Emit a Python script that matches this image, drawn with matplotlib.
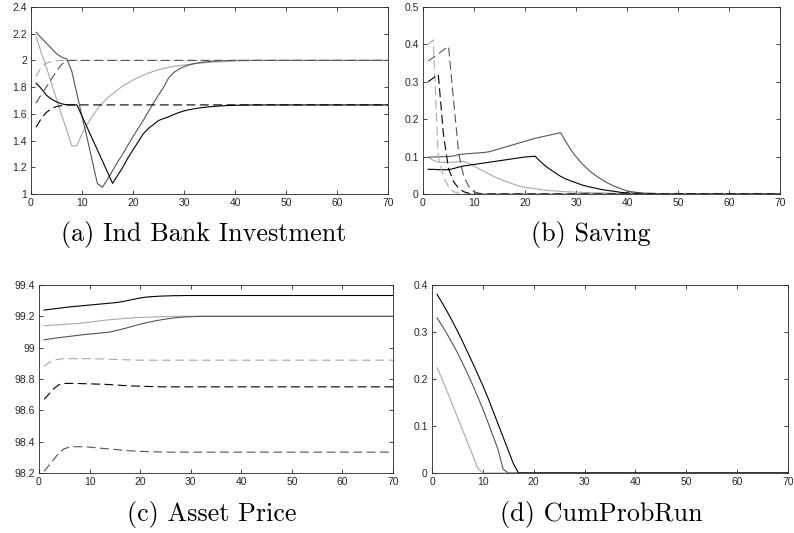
import numpy as np
import matplotlib.pyplot as plt

# periods 1..70
t = np.arange(1, 71)

def pad(vals, tail):
    vals = list(vals)
    return np.array(vals + [tail] * (70 - len(vals)))

# (a) individual bank investment
inv_black = pad([1.83, 1.79, 1.74, 1.71, 1.69, 1.675, 1.668, 1.667, 1.667,
                 1.583, 1.499, 1.415, 1.332, 1.248, 1.164, 1.08,
                 1.14, 1.20, 1.27, 1.33, 1.39, 1.45, 1.49, 1.52, 1.55, 1.565,
                 1.578, 1.595, 1.61, 1.622, 1.631, 1.638, 1.644, 1.649, 1.653,
                 1.656, 1.659, 1.661, 1.663, 1.664, 1.665, 1.666, 1.666, 1.667], 1.667)
inv_dark = pad([2.21, 2.17, 2.13, 2.09, 2.05, 2.025, 2.01, 1.92, 1.75, 1.58,
                1.42, 1.25, 1.08, 1.05, 1.11, 1.175, 1.24, 1.30, 1.365, 1.43,
                1.49, 1.55, 1.615, 1.68, 1.74, 1.80, 1.87, 1.91, 1.935, 1.953,
                1.966, 1.976, 1.983, 1.988, 1.992, 1.995, 1.997, 1.998, 1.999], 2.0)
inv_light = pad([2.18, 2.06, 1.95, 1.83, 1.71, 1.59, 1.48, 1.36, 1.36, 1.45,
                 1.52, 1.58, 1.635, 1.68, 1.72, 1.75, 1.78, 1.81, 1.83, 1.853,
                 1.872, 1.89, 1.905, 1.918, 1.93, 1.94, 1.948, 1.955, 1.961,
                 1.966, 1.971, 1.975, 1.979, 1.982, 1.985, 1.988, 1.99, 1.992,
                 1.994, 1.995, 1.997, 1.998, 1.999], 2.0)
inv_black_d = pad([1.50, 1.565, 1.61, 1.64, 1.655, 1.662, 1.666], 1.667)
inv_dark_d = pad([1.68, 1.745, 1.80, 1.86, 1.92, 1.97, 2.0], 2.0)
inv_light_d = pad([1.88, 1.95, 1.98, 1.99, 1.997], 2.0)

# (b) saving
sav_black = pad([0.066, 0.066, 0.065, 0.065, 0.065, 0.068, 0.072, 0.075, 0.077,
                 0.079, 0.081, 0.083, 0.085, 0.087, 0.089, 0.091, 0.093, 0.095,
                 0.097, 0.099, 0.1, 0.101, 0.087, 0.075, 0.065, 0.056, 0.047,
                 0.04, 0.035, 0.03, 0.025, 0.021, 0.018, 0.015, 0.012, 0.01,
                 0.008, 0.006, 0.004, 0.003, 0.002, 0.002, 0.001, 0.001, 0.001], 0.0)
sav_dark = pad([0.098, 0.099, 0.099, 0.1, 0.1, 0.102, 0.105, 0.107, 0.108,
                0.109, 0.11, 0.111, 0.113, 0.117, 0.121, 0.125, 0.129, 0.133,
                0.137, 0.141, 0.145, 0.149, 0.152, 0.155, 0.158, 0.161, 0.164,
                0.14, 0.118, 0.1, 0.084, 0.07, 0.058, 0.048, 0.039, 0.031, 0.024,
                0.018, 0.013, 0.008, 0.006, 0.004, 0.003, 0.002, 0.002, 0.001,
                0.001, 0.001], 0.0)
sav_light = pad([0.098, 0.09, 0.085, 0.085, 0.085, 0.085, 0.086, 0.087, 0.082,
                 0.075, 0.067, 0.06, 0.053, 0.046, 0.04, 0.035, 0.03, 0.025,
                 0.021, 0.018, 0.016, 0.014, 0.012, 0.01, 0.009, 0.008, 0.007,
                 0.006, 0.0055, 0.005, 0.0045, 0.004, 0.0035, 0.003, 0.003,
                 0.0025, 0.002, 0.0015, 0.001, 0.001], 0.0)
sav_black_d = pad([0.30, 0.31, 0.32, 0.16, 0.068, 0.033, 0.015, 0.006, 0.002], 0.0)
sav_dark_d = pad([0.355, 0.365, 0.375, 0.385, 0.395, 0.25, 0.108, 0.046,
                  0.02, 0.006, 0.002], 0.0)
sav_light_d = pad([0.40, 0.412, 0.10, 0.046, 0.02, 0.006, 0.002], 0.0)

# (c) asset price
ap_black = pad([99.24, 99.244, 99.248, 99.252, 99.256, 99.26, 99.263, 99.266,
                99.269, 99.272, 99.275, 99.278, 99.281, 99.284, 99.287, 99.291,
                99.297, 99.304, 99.311, 99.317, 99.322, 99.325, 99.327, 99.329,
                99.33, 99.331, 99.332, 99.332, 99.333], 99.333)
ap_dark = pad([99.05, 99.055, 99.06, 99.064, 99.068, 99.072, 99.076, 99.08,
               99.084, 99.087, 99.09, 99.093, 99.096, 99.1, 99.107, 99.115,
               99.123, 99.132, 99.141, 99.15, 99.157, 99.164, 99.171, 99.177,
               99.182, 99.187, 99.191, 99.194, 99.196, 99.198, 99.199, 99.2], 99.2)
ap_light = pad([99.14, 99.142, 99.144, 99.146, 99.148, 99.151, 99.153, 99.155,
                99.159, 99.163, 99.167, 99.171, 99.175, 99.178, 99.181, 99.184,
                99.187, 99.189, 99.191, 99.193, 99.194, 99.195, 99.196, 99.197,
                99.198, 99.199, 99.2], 99.2)
ap_light_d = pad([98.88, 98.905, 98.92, 98.927, 98.93, 98.93, 98.93, 98.93,
                  98.93, 98.93, 98.929, 98.928, 98.927, 98.926, 98.925, 98.924,
                  98.923, 98.922, 98.921, 98.92], 98.92)
ap_black_d = pad([98.67, 98.705, 98.74, 98.765, 98.772, 98.772, 98.772, 98.771,
                  98.77, 98.769, 98.768, 98.767, 98.766, 98.764, 98.762, 98.76,
                  98.758, 98.756, 98.755, 98.754, 98.753, 98.752, 98.751, 98.75], 98.75)
ap_dark_d = pad([98.21, 98.25, 98.29, 98.33, 98.355, 98.365, 98.368, 98.368,
                 98.367, 98.365, 98.362, 98.359, 98.356, 98.353, 98.35, 98.347,
                 98.344, 98.342, 98.34, 98.338, 98.337, 98.336, 98.335, 98.334,
                 98.333], 98.333)

# (d) cumulative probability of a run
run_black = pad([0.38, 0.362, 0.343, 0.323, 0.302, 0.28, 0.257, 0.234, 0.21,
                 0.186, 0.16, 0.132, 0.104, 0.076, 0.048, 0.02], 0.0)
run_dark = pad([0.33, 0.313, 0.295, 0.276, 0.256, 0.234, 0.211, 0.187, 0.162,
                0.136, 0.108, 0.079, 0.049, 0.008], 0.0)
run_light = pad([0.224, 0.199, 0.173, 0.146, 0.119, 0.092, 0.065, 0.038, 0.01], 0.0)

BLACK = '#000000'
DARK = '#555555'
LIGHT = '#a8a8a8'
AXC = '#262626'

W, H = 794, 533
fig = plt.figure(figsize=(W / 100, H / 100), dpi=100)

def make_axes(l, r, top, bot):
    ax = fig.add_axes([l / W, 1 - bot / H, (r - l) / W, (bot - top) / H])
    for s in ax.spines.values():
        s.set_color(AXC)
        s.set_linewidth(0.6)
    ax.tick_params(direction='in', top=True, right=True, length=3, width=0.6,
                   color=AXC, labelcolor=AXC, labelsize=7.5, pad=3)
    ax.set_xlim(0, 70)
    ax.set_xticks(range(0, 71, 10))
    return ax

def draw(ax, solid, dashed):
    for y, c in solid:
        ax.plot(t, y, color=c, lw=0.8)
    for y, c in dashed:
        ax.plot(t, y, color=c, lw=0.8, dashes=(8, 4))

ax_a = make_axes(31, 388, 7, 194)
draw(ax_a, [(inv_light, LIGHT), (inv_dark, DARK), (inv_black, BLACK)],
     [(inv_light_d, LIGHT), (inv_dark_d, DARK), (inv_black_d, BLACK)])
ax_a.set_ylim(1, 2.4)
ax_a.set_yticks([1, 1.2, 1.4, 1.6, 1.8, 2, 2.2, 2.4])
ax_a.set_yticklabels(['1', '1.2', '1.4', '1.6', '1.8', '2', '2.2', '2.4'])

ax_b = make_axes(423, 780, 7, 194)
draw(ax_b, [(sav_light, LIGHT), (sav_dark, DARK), (sav_black, BLACK)],
     [(sav_light_d, LIGHT), (sav_dark_d, DARK), (sav_black_d, BLACK)])
ax_b.set_ylim(0, 0.5)
ax_b.set_yticks([0, 0.1, 0.2, 0.3, 0.4, 0.5])
ax_b.set_yticklabels(['0', '0.1', '0.2', '0.3', '0.4', '0.5'])

ax_c = make_axes(39, 393, 285, 473)
draw(ax_c, [(ap_light, LIGHT), (ap_dark, DARK), (ap_black, BLACK)],
     [(ap_light_d, LIGHT), (ap_dark_d, DARK), (ap_black_d, BLACK)])
ax_c.set_ylim(98.2, 99.4)
ax_c.set_yticks([98.2, 98.4, 98.6, 98.8, 99, 99.2, 99.4])
ax_c.set_yticklabels(['98.2', '98.4', '98.6', '98.8', '99', '99.2', '99.4'])

ax_d = make_axes(432, 788, 285, 473)
draw(ax_d, [(run_light, LIGHT), (run_dark, DARK), (run_black, BLACK)], [])
ax_d.set_ylim(0, 0.4)
ax_d.set_yticks([0, 0.1, 0.2, 0.3, 0.4])
ax_d.set_yticklabels(['0', '0.1', '0.2', '0.3', '0.4'])

for ax in (ax_a, ax_b, ax_c, ax_d):
    for lab in ax.get_xticklabels() + ax.get_yticklabels():
        lab.set_family('Liberation Sans')

# sub-captions
caps = [('(a) Ind Bank Investment', 204, 235), ('(b) Saving', 591, 235),
        ('(c) Asset Price', 212, 514), ('(d) CumProbRun', 601, 514)]
for txt, x, y in caps:
    fig.text(x / W, 1 - y / H, txt, family='cmr10', fontsize=18.8,
             ha='center', va='center', color='black')

fig.savefig('out.png', dpi=100)
